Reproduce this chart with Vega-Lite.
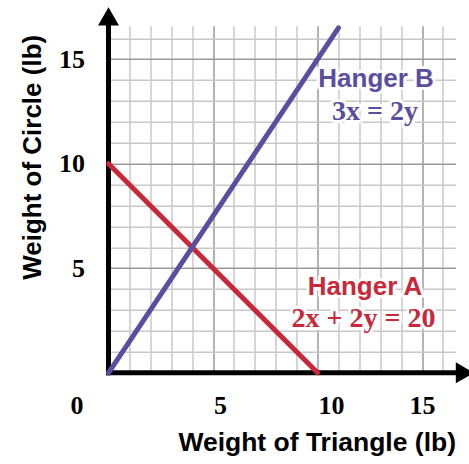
{
  "$schema": "https://vega.github.io/schema/vega-lite/v6.json",
  "width": 347,
  "height": 347,
  "autosize": {"type": "none"},
  "padding": {"left": 108.5, "top": 25.8, "right": 13.5, "bottom": 91.4},
  "background": "white",
  "config": {"view": {"stroke": null}},
  "datasets": {
    "lines": [
      {"series": "A", "x": 0, "y": 10},
      {"series": "A", "x": 10, "y": 0},
      {"series": "B", "x": 0, "y": 0},
      {"series": "B", "x": 11, "y": 16.5}
    ],
    "axes": [
      {"x": 0, "x2": 16.6, "y": 0, "y2": 0},
      {"x": 0, "x2": 0, "y": 0, "y2": 16.6}
    ],
    "arrows": [
      {"dir": "right", "x": 17.05, "y": 0},
      {"dir": "up", "x": 0, "y": 17.05}
    ],
    "labels": [
      {"series": "A", "kind": "name", "text": "Hanger A", "x": 12.27, "y": 4.1},
      {"series": "A", "kind": "eq", "text": "2x + 2y = 20", "x": 12.2, "y": 2.55},
      {"series": "B", "kind": "name", "text": "Hanger B", "x": 12.8, "y": 14.06},
      {"series": "B", "kind": "eq", "text": "3x = 2y", "x": 12.75, "y": 12.5}
    ]
  },
  "encoding": {
    "x": {
      "field": "x",
      "type": "quantitative",
      "scale": {"domain": [0, 16.6], "nice": false, "zero": false},
      "axis": {
        "values": [0,1,2,3,4,5,6,7,8,9,10,11,12,13,14,15,16],
        "grid": true,
        "gridColor": {"expr": "datum.value % 5 == 0 ? '#9a9a9a' : '#c8c8c8'"},
        "gridWidth": 1.5,
        "domain": false,
        "ticks": false,
        "labelExpr": "datum.value % 5 == 0 ? datum.label : ''",
        "labelOffset": {"expr": "datum.value == 0 ? -32 : datum.value == 5 ? 7 : datum.value == 10 ? 13.5 : 0"},
        "labelFont": "Liberation Serif",
        "labelFontWeight": "bold",
        "labelFontSize": 26,
        "labelColor": "black",
        "labelPadding": 20,
        "labelFlush": false,
        "labelOverlap": false,
        "title": "Weight of Triangle (lb)",
        "titleFont": "Liberation Sans",
        "titleFontWeight": "bold",
        "titleFontSize": 26.5,
        "titleColor": "black",
        "titleAnchor": "end",
        "titleBaseline": "middle",
        "titleY": 70
      }
    },
    "y": {
      "field": "y",
      "type": "quantitative",
      "scale": {"domain": [0, 16.6], "nice": false, "zero": false},
      "axis": {
        "values": [0,1,2,3,4,5,6,7,8,9,10,11,12,13,14,15,16],
        "grid": true,
        "gridColor": {"expr": "datum.value % 5 == 0 ? '#9a9a9a' : '#c8c8c8'"},
        "gridWidth": 1.5,
        "domain": false,
        "ticks": false,
        "labelExpr": "datum.value % 5 == 0 && datum.value > 0 ? datum.label : ''",
        "labelFont": "Liberation Serif",
        "labelFontWeight": "bold",
        "labelFontSize": 26,
        "labelColor": "black",
        "labelPadding": 24,
        "labelFlush": false,
        "labelOverlap": false,
        "title": "Weight of Circle (lb)",
        "titleFont": "Liberation Sans",
        "titleFontWeight": "bold",
        "titleFontSize": 26,
        "titleColor": "black",
        "titleBaseline": "middle",
        "titleX": -76.5,
        "titleY": 131
      }
    }
  },
  "layer": [
    {
      "data": {"name": "axes"},
      "mark": {"type": "rule", "color": "black", "strokeWidth": 5, "strokeCap": "square"},
      "encoding": {
        "x2": {"field": "x2"},
        "y2": {"field": "y2"}
      }
    },
    {
      "data": {"name": "arrows"},
      "mark": {"type": "point", "filled": true, "color": "black", "size": 440, "opacity": 1, "strokeWidth": 0},
      "encoding": {
        "shape": {
          "field": "dir",
          "type": "nominal",
          "scale": {"domain": ["right", "up"], "range": ["triangle-right", "triangle-up"]},
          "legend": null
        }
      }
    },
    {
      "data": {"name": "lines"},
      "mark": {"type": "line", "strokeWidth": 5, "strokeCap": "round"},
      "encoding": {
        "color": {
          "field": "series",
          "type": "nominal",
          "scale": {"domain": ["A", "B"], "range": ["#c8283a", "#5b4ea0"]},
          "legend": null
        }
      }
    },
    {
      "data": {"name": "labels"},
      "transform": [{"filter": "datum.kind == 'name'"}],
      "mark": {"type": "text", "align": "center", "baseline": "middle", "font": "Liberation Sans", "fontSize": 26, "fontWeight": "bold", "stroke": "white", "strokeWidth": 6, "strokeJoin": "round", "fill": "white"},
      "encoding": {"text": {"field": "text"}}
    },
    {
      "data": {"name": "labels"},
      "transform": [{"filter": "datum.kind == 'eq'"}],
      "mark": {"type": "text", "align": "center", "baseline": "middle", "font": "Liberation Serif", "fontSize": 28, "fontWeight": "bold", "stroke": "white", "strokeWidth": 6, "strokeJoin": "round", "fill": "white"},
      "encoding": {"text": {"field": "text"}}
    },
    {
      "data": {"name": "labels"},
      "transform": [{"filter": "datum.kind == 'name'"}],
      "mark": {"type": "text", "align": "center", "baseline": "middle", "font": "Liberation Sans", "fontSize": 26, "fontWeight": "bold"},
      "encoding": {
        "text": {"field": "text"},
        "color": {
          "field": "series",
          "type": "nominal",
          "scale": {"domain": ["A", "B"], "range": ["#c8283a", "#5b4ea0"]},
          "legend": null
        }
      }
    },
    {
      "data": {"name": "labels"},
      "transform": [{"filter": "datum.kind == 'eq'"}],
      "mark": {"type": "text", "align": "center", "baseline": "middle", "font": "Liberation Serif", "fontSize": 28, "fontWeight": "bold"},
      "encoding": {
        "text": {"field": "text"},
        "color": {
          "field": "series",
          "type": "nominal",
          "scale": {"domain": ["A", "B"], "range": ["#c8283a", "#5b4ea0"]},
          "legend": null
        }
      }
    }
  ]
}
